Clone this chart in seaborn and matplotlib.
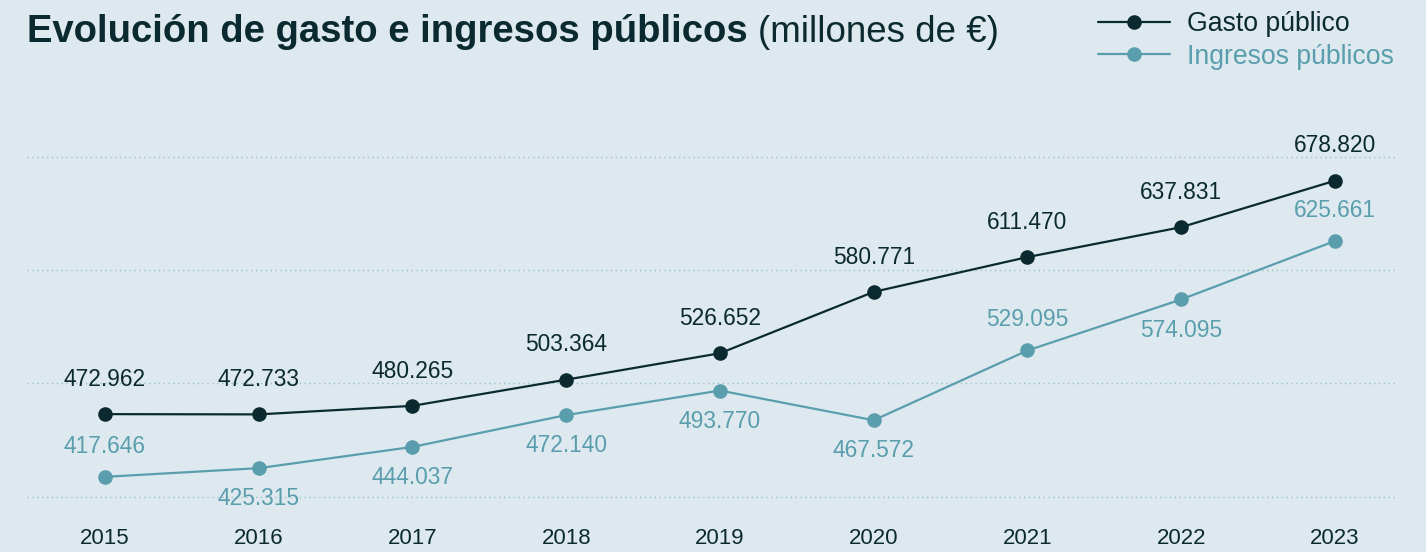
import numpy as np
import pandas as pd
import matplotlib
matplotlib.use("Agg")
import matplotlib.pyplot as plt
from matplotlib.lines import Line2D
import seaborn as sns

# data (millones de euros)
years = [2015, 2016, 2017, 2018, 2019, 2020, 2021, 2022, 2023]
gasto = [472962, 472733, 480265, 503364, 526652, 580771, 611470, 637831, 678820]
ingresos = [417646, 425315, 444037, 472140, 493770, 467572, 529095, 574095, 625661]
# label side for ingresos (1 = above, -1 = below)
ingresos_side = [1, -1, -1, -1, -1, -1, 1, -1, 1]

bg = '#dde9ee'
c_dark = '#0b2a30'
c_light = '#5a9eae'
c_grid = '#9cc3c6'

df = pd.DataFrame({
    'year': years * 2,
    'value': gasto + ingresos,
    'serie': ['Gasto público'] * len(years) + ['Ingresos públicos'] * len(years),
})

sns.set_theme(style='white')
plt.rcParams['font.family'] = ['Liberation Sans', 'DejaVu Sans']

fig = plt.figure(figsize=(14.26, 5.52), dpi=100)
fig.patch.set_facecolor(bg)
ax = fig.add_axes([27 / 1426, 1 - 515 / 552, 1371 / 1426, 415 / 552])
ax.set_facecolor(bg)

sns.lineplot(data=df, x='year', y='value', hue='serie',
             palette={'Gasto público': c_dark, 'Ingresos públicos': c_light},
             marker='o', markersize=10.5, markeredgewidth=0, linewidth=1.6,
             legend=False, ax=ax)

ax.set_xlim(2014.493, 2023.41)
ax.set_ylim(384000, 750000)
for v in [400000, 500000, 600000, 700000]:
    ax.axhline(v, color=c_grid, linestyle=(0, (1, 2.5)), linewidth=1, zorder=0)

for s in ax.spines.values():
    s.set_visible(False)
ax.set_yticks([])
ax.set_xticks(years)
ax.set_xticklabels([str(y) for y in years], fontsize=16, color=c_dark)
ax.tick_params(axis='x', length=0, pad=9)
ax.set_xlabel('')
ax.set_ylabel('')

def fmt(v):
    return f'{v:,}'.replace(',', '.')

for x, v in zip(years, gasto):
    ax.annotate(fmt(v), (x, v), xytext=(0, 25), textcoords='offset points',
                ha='center', va='center', fontsize=16.4, color=c_dark)
for x, v, side in zip(years, ingresos, ingresos_side):
    ax.annotate(fmt(v), (x, v), xytext=(0, 22 * side), textcoords='offset points',
                ha='center', va='center', fontsize=16.4, color=c_light)

# title
t1 = fig.text(27 / 1426, 1 - 42 / 552, 'Evolución de gasto e ingresos públicos',
              fontsize=27.5, fontweight='bold', color=c_dark, ha='left', va='baseline')
fig.canvas.draw()
bb = t1.get_window_extent()
fig.text(bb.x1 / fig.bbox.width + 10 / 1426, 1 - 42 / 552, '(millones de €)',
         fontsize=26.5, color=c_dark, ha='left', va='baseline')

# legend
handles = [
    Line2D([], [], color=c_dark, marker='o', markersize=10.5, markeredgewidth=0, linewidth=1.6),
    Line2D([], [], color=c_light, marker='o', markersize=10.5, markeredgewidth=0, linewidth=1.6),
]
leg = fig.legend(handles, ['Gasto público', 'Ingresos públicos'],
                 loc='upper left', bbox_to_anchor=(1098 / 1426, 1 - 11 / 552),
                 frameon=False, fontsize=19.2, handlelength=2.7, handletextpad=0.65,
                 labelspacing=0.25, borderpad=0, borderaxespad=0,
                 labelcolor=[c_dark, c_light])

fig.savefig('out.png', dpi=100, facecolor=bg)
